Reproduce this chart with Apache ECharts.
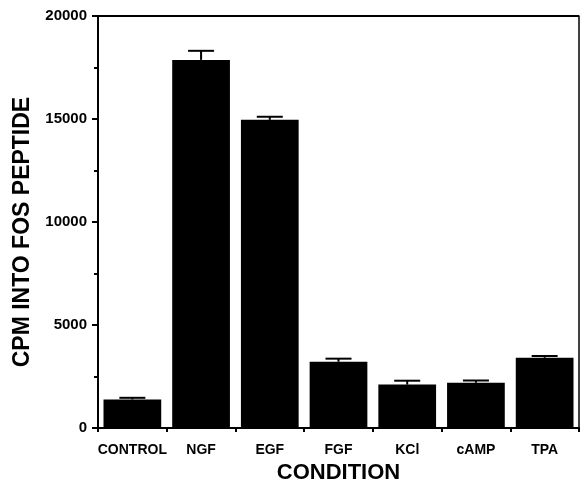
<!DOCTYPE html>
<html>
<head>
<meta charset="utf-8">
<script src="https://cdn.jsdelivr.net/npm/echarts@6/dist/echarts.min.js"></script>
<style>html,body{margin:0;padding:0;background:#fff;overflow:hidden;}#c{width:582px;height:489px;}</style>
</head>
<body>
<div id="c"></div>
<script>
var categories = ['CONTROL', 'NGF', 'EGF', 'FGF', 'KCl', 'cAMP', 'TPA'];
var means = [1390, 17870, 14960, 3220, 2110, 2200, 3410];
var errorTops = [1470, 18310, 15110, 3370, 2300, 2310, 3500];
var yTicks = [0, 5000, 10000, 15000, 20000];

var chart = echarts.init(document.getElementById('c'), null, { width: 582, height: 489 });
var FONT = '"Liberation Sans", Arial, sans-serif';
var errData = categories.map(function (c, i) { return [i, means[i], errorTops[i]]; });

chart.setOption({
  animation: false,
  backgroundColor: '#fff',
  grid: { left: 98, right: 3, top: 16, height: 421, containLabel: false },
  xAxis: {
    type: 'category',
    data: categories,
    name: 'CONDITION',
    nameLocation: 'middle',
    nameGap: 30,
    nameTextStyle: { fontFamily: FONT, fontWeight: 'bold', fontSize: 22, color: '#000' },
    axisLine: { lineStyle: { color: '#000', width: 2 } },
    axisTick: { show: true, length: 4, lineStyle: { color: '#000', width: 2 } },
    axisLabel: { interval: 0, fontFamily: FONT, fontWeight: 'bold', fontSize: 14, color: '#000', margin: 15 }
  },
  yAxis: [{
    type: 'value',
    min: 0, max: 20000, interval: 5000,
    name: 'CPM INTO FOS PEPTIDE',
    nameLocation: 'middle',
    nameRotate: 90,
    nameGap: 58,
    nameTextStyle: { fontFamily: FONT, fontWeight: 'bold', fontSize: 23, color: '#000', padding: [0, 20, 0, 0] },
    axisLine: { show: true, lineStyle: { color: '#000', width: 2 } },
    axisTick: { show: true, length: 6, lineStyle: { color: '#000', width: 2 } },
    minorTick: { show: true, splitNumber: 2, length: 4, lineStyle: { color: '#000', width: 2 } },
    splitLine: { show: false },
    axisLabel: {
      fontFamily: FONT, fontWeight: 'bold', fontSize: 15, color: '#000', margin: 11,
      formatter: function (v) { return yTicks.indexOf(v) >= 0 ? String(v) : ''; }
    }
  }, {
    type: 'value',
    position: 'right',
    min: 0, max: 20000, interval: 5000,
    axisLine: { show: true, lineStyle: { color: '#000', width: 1.5 } },
    axisTick: { show: false },
    axisLabel: { show: false },
    splitLine: { show: false }
  }],
  graphic: [{
    type: 'line',
    shape: { x1: 98, y1: 16, x2: 579, y2: 16 },
    style: { stroke: '#000', lineWidth: 2 }
  }],
  series: [{
    type: 'bar',
    data: means,
    barCategoryGap: '16%',
    itemStyle: { color: '#000' },
    z: 2
  }, {
    type: 'custom',
    data: errData,
    z: 3,
    renderItem: function (params, api) {
      var i = api.value(0);
      var top = api.coord([i, api.value(2)]);
      var base = api.coord([i, api.value(1)]);
      var half = 13;
      return {
        type: 'group',
        children: [{
          type: 'line',
          shape: { x1: top[0], y1: base[1], x2: top[0], y2: top[1] },
          style: { stroke: '#000', lineWidth: 2 }
        }, {
          type: 'line',
          shape: { x1: top[0] - half, y1: top[1], x2: top[0] + half, y2: top[1] },
          style: { stroke: '#000', lineWidth: 2 }
        }]
      };
    }
  }]
});
</script>
</body>
</html>
